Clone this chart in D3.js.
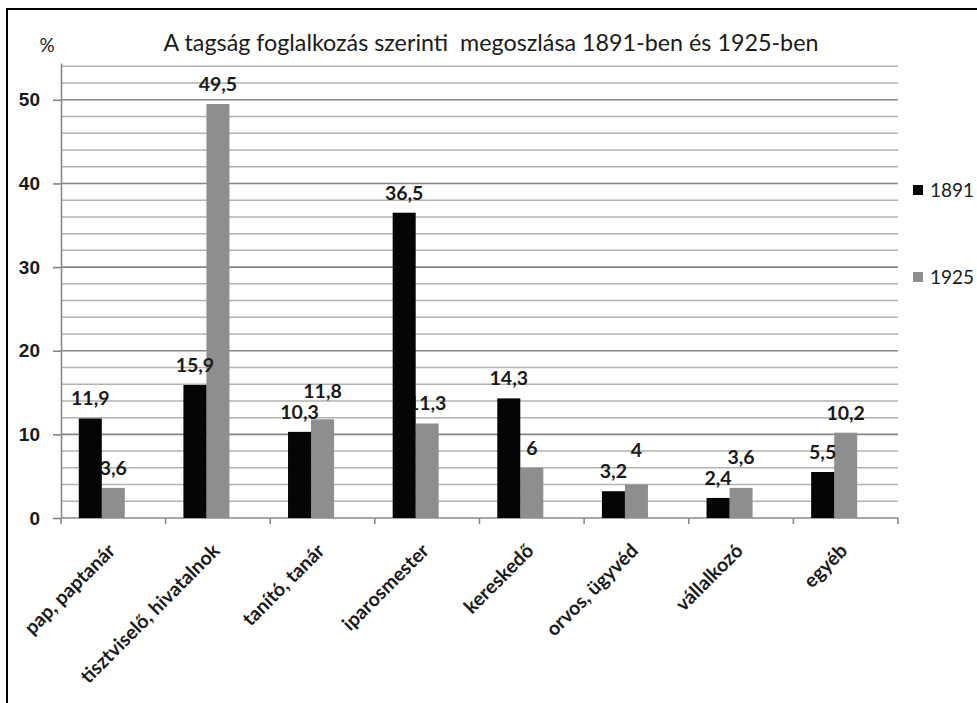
<!DOCTYPE html>
<html>
<head>
<meta charset="utf-8">
<script src="https://cdn.jsdelivr.net/npm/d3@7"></script>
<style>
  body { margin: 0; background: #fff; }
  svg { display: block; font-family: Lato, "Open Sans", sans-serif; }
  .tick text { font-size: 19px; font-weight: bold; fill: #1a1a1a; }
  .label { font-size: 19.5px; font-weight: bold; fill: #1a1a1a; }
</style>
</head>
<body>
<svg id="chart"></svg>
<script>
const categories = ["pap, paptanár", "tisztviselő, hivatalnok", "tanító, tanár", "iparosmester",
  "kereskedő", "orvos, ügyvéd", "vállalkozó", "egyéb"];
const series = ["1891", "1925"];
const values1891 = [11.9, 15.9, 10.3, 36.5, 14.3, 3.2, 2.4, 5.5];
const values1925 = [3.6, 49.5, 11.8, 11.3, 6, 4, 3.6, 10.2];
const yTicks = [0, 10, 20, 30, 40, 50];
const minorTicks = [2, 4, 6, 8, 12, 14, 16, 18, 22, 24, 26, 28, 32, 34, 36, 38, 42, 44, 46, 48, 52, 54];
const colors = { "1891": "#050505", "1925": "#8e8e8e" };

const width = 977, height = 703;
const plot = { left: 61, right: 898, top: 63, bottom: 518 };

const svg = d3.select("#chart").attr("width", width).attr("height", height);

// outer frame (runs off the right and bottom of the picture)
svg.append("rect")
  .attr("x", 7).attr("y", 9)
  .attr("width", 1000).attr("height", 720)
  .attr("fill", "none").attr("stroke", "#000").attr("stroke-width", 2);

const x0 = d3.scaleBand()
  .domain(categories)
  .range([plot.left, plot.right])
  .paddingInner(0.34)
  .paddingOuter(0.17);
// the group has room for three bars, only two series are filled
const x1 = d3.scaleBand()
  .domain(series)
  .range([0, x0.bandwidth() * 2 / 3]);
const y = d3.scaleLinear().domain([0, 54.4]).range([plot.bottom, plot.top]);

// gridlines
svg.append("g").selectAll("line")
  .data(minorTicks)
  .enter().append("line")
  .attr("x1", plot.left).attr("x2", plot.right)
  .attr("y1", d => y(d)).attr("y2", d => y(d))
  .attr("stroke", "#b2b2b2").attr("stroke-width", 1.5);
svg.append("g").selectAll("line")
  .data(yTicks.slice(1))
  .enter().append("line")
  .attr("x1", plot.left).attr("x2", plot.right)
  .attr("y1", d => y(d)).attr("y2", d => y(d))
  .attr("stroke", "#858585").attr("stroke-width", 1.6);

// y axis
const yAxis = svg.append("g")
  .attr("transform", `translate(${plot.left},0)`)
  .call(d3.axisLeft(y).tickValues(yTicks).tickSize(8).tickSizeOuter(0).tickPadding(13));
yAxis.select(".domain").attr("stroke", "#8a8a8a").attr("stroke-width", 1.6);
yAxis.selectAll(".tick line").attr("stroke", "#858585").attr("stroke-width", 1.6);

// x axis
svg.append("line")
  .attr("x1", plot.left).attr("x2", plot.right)
  .attr("y1", plot.bottom).attr("y2", plot.bottom)
  .attr("stroke", "#8a8a8a").attr("stroke-width", 1.6);
svg.append("g").selectAll("line")
  .data(d3.range(categories.length + 1))
  .enter().append("line")
  .attr("x1", i => plot.left + i * x0.step()).attr("x2", i => plot.left + i * x0.step())
  .attr("y1", plot.bottom).attr("y2", plot.bottom + 6)
  .attr("stroke", "#8a8a8a").attr("stroke-width", 1.6);

svg.append("g").selectAll("text")
  .data(categories)
  .enter().append("text")
  .attr("class", "label")
  .attr("text-anchor", "end")
  .attr("transform", d => `translate(${x0(d) + x0.bandwidth() / 2 + 3},${plot.bottom + 34}) rotate(-45)`)
  .text(d => d);

// bars and labels
const fmt = v => String(v).replace(".", ",");
const labelY = (v) => y(v) - 13;

const rows = categories.map((c, i) => {
  const l1 = labelY(values1891[i]);
  let l2 = labelY(values1925[i]);
  // move the 1925 label up when it would run into the 1891 label
  if (Math.abs(l2 - l1) < 21) l2 = l1 - 21;
  return { c, v1: values1891[i], v2: values1925[i], l1, l2 };
});

function drawBars(key, field, labelField) {
  const g = svg.append("g");
  g.selectAll("rect")
    .data(rows)
    .enter().append("rect")
    .attr("x", d => x0(d.c) + x1(key))
    .attr("y", d => y(d[field]))
    .attr("width", x1.bandwidth())
    .attr("height", d => plot.bottom - y(d[field]))
    .attr("fill", colors[key]);
  g.selectAll("text")
    .data(rows)
    .enter().append("text")
    .attr("class", "label")
    .attr("text-anchor", "middle")
    .attr("x", d => x0(d.c) + x1(key) + x1.bandwidth() / 2)
    .attr("y", d => d[labelField])
    .text(d => fmt(d[field]));
}
drawBars("1925", "v2", "l2");
drawBars("1891", "v1", "l1");

// title and unit
svg.append("text")
  .attr("x", 491).attr("y", 51)
  .attr("text-anchor", "middle")
  .attr("font-size", 23.3)
  .attr("fill", "#1a1a1a")
  .style("white-space", "pre")
  .text("A tagság foglalkozás szerinti  megoszlása 1891-ben és 1925-ben");
svg.append("text")
  .attr("x", 47).attr("y", 52)
  .attr("text-anchor", "middle")
  .attr("font-size", 19)
  .attr("fill", "#1a1a1a")
  .text("%");

// legend
const legend = svg.append("g").selectAll("g")
  .data(series)
  .enter().append("g")
  .attr("transform", (d, i) => `translate(913,${190 + i * 87})`);
legend.append("rect")
  .attr("x", 0).attr("y", -5)
  .attr("width", 10).attr("height", 10)
  .attr("fill", d => colors[d]);
legend.append("text")
  .attr("x", 17).attr("y", 7)
  .attr("font-size", 19)
  .attr("fill", "#1a1a1a")
  .text(d => d);
</script>
</body>
</html>
